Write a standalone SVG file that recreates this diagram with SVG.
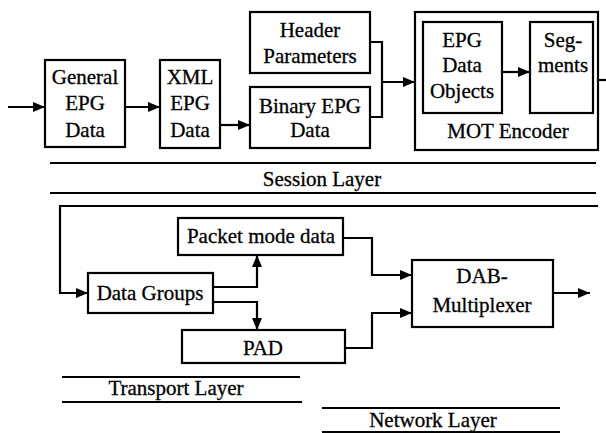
<svg xmlns="http://www.w3.org/2000/svg" width="606" height="433" viewBox="0 0 606 433">
<defs>
<marker id="ah" markerWidth="12" markerHeight="10" refX="12" refY="5" orient="auto" markerUnits="userSpaceOnUse">
<path d="M0,0 L12,5 L0,10 Z" fill="#000"/>
</marker>
<style>
.box{fill:#fff;stroke:#000;stroke-width:2.2}
.t{font-family:'Liberation Serif','DejaVu Serif','Times New Roman',serif;font-size:21px;fill:#000;stroke:#000;stroke-width:0.3;text-anchor:middle}
.c{fill:none;stroke:#000;stroke-width:2.2}
.a{fill:none;stroke:#000;stroke-width:2.2;marker-end:url(#ah)}
.ln{stroke:#000;stroke-width:2.2}
</style>
</defs>
<rect width="606" height="433" fill="#fff"/>

<g id="mot-encoder">
<rect class="box" x="415" y="12" width="183" height="138"/>
<text class="t" x="508" y="138">MOT Encoder</text>
</g>
<g id="general-epg">
<rect class="box" x="45" y="60" width="80" height="87"/>
<text class="t" x="85" y="84">General</text>
<text class="t" x="85" y="110">EPG</text>
<text class="t" x="85" y="137">Data</text>
</g>
<g id="xml-epg">
<rect class="box" x="160" y="60" width="60" height="88"/>
<text class="t" x="190" y="84">XML</text>
<text class="t" x="190" y="110">EPG</text>
<text class="t" x="190" y="137">Data</text>
</g>
<g id="header-params">
<rect class="box" x="250" y="12" width="120" height="61"/>
<text class="t" x="310" y="37">Header</text>
<text class="t" x="310" y="63">Parameters</text>
</g>
<g id="binary-epg">
<rect class="box" x="250" y="87" width="120" height="61"/>
<text class="t" x="310" y="113">Binary EPG</text>
<text class="t" x="310" y="137">Data</text>
</g>
<g id="epg-data-objects">
<rect class="box" x="423" y="22" width="79" height="91"/>
<text class="t" x="462" y="47">EPG</text>
<text class="t" x="462" y="72">Data</text>
<text class="t" x="462" y="98">Objects</text>
</g>
<g id="segments">
<rect class="box" x="530" y="22" width="63" height="91"/>
<text class="t" x="563" y="47">Seg-</text>
<text class="t" x="563" y="72">ments</text>
</g>
<g id="data-groups">
<rect class="box" x="88" y="273" width="125" height="40"/>
<text class="t" x="150" y="300">Data Groups</text>
</g>
<g id="packet-mode">
<rect class="box" x="178" y="218" width="165" height="37"/>
<text class="t" x="261" y="243">Packet mode data</text>
</g>
<g id="pad">
<rect class="box" x="182" y="330" width="163" height="33"/>
<text class="t" x="263" y="355">PAD</text>
</g>
<g id="dab-mux">
<rect class="box" x="412" y="260" width="141" height="67"/>
<text class="t" x="482" y="283">DAB-</text>
<text class="t" x="482" y="312">Multiplexer</text>
</g>

<g id="layers">
<line class="ln" x1="50" y1="163" x2="596" y2="163"/>
<line class="ln" x1="50" y1="193" x2="596" y2="193"/>
<text class="t" x="322" y="186">Session Layer</text>
<line class="ln" x1="62" y1="377" x2="300" y2="377"/>
<line class="ln" x1="62" y1="402" x2="302" y2="402"/>
<text class="t" x="176" y="395">Transport Layer</text>
<line class="ln" x1="322" y1="408" x2="560" y2="408"/>
<text class="t" x="433" y="427">Network Layer</text>
<line class="ln" x1="322" y1="432" x2="560" y2="432"/>
</g>

<g id="connectors">
<path class="a" d="M8,107 H45"/>
<path class="a" d="M125,107 H160"/>
<path class="a" d="M220,125 H250"/>
<path class="c" d="M370,42 H382 V117 H370"/>
<path class="a" d="M382,82 H415"/>
<path class="a" d="M502,72 H530"/>
<path class="c" d="M598,80 H606"/>
<path class="a" d="M598,206 H60 V293 H88"/>
<path class="a" d="M213,287 H257 V255"/>
<path class="a" d="M213,302 H257 V330"/>
<path class="a" d="M343,238 H372 V275 H412"/>
<path class="a" d="M345,348 H372 V313 H412"/>
<path class="a" d="M553,293 H590"/>
</g>
</svg>
